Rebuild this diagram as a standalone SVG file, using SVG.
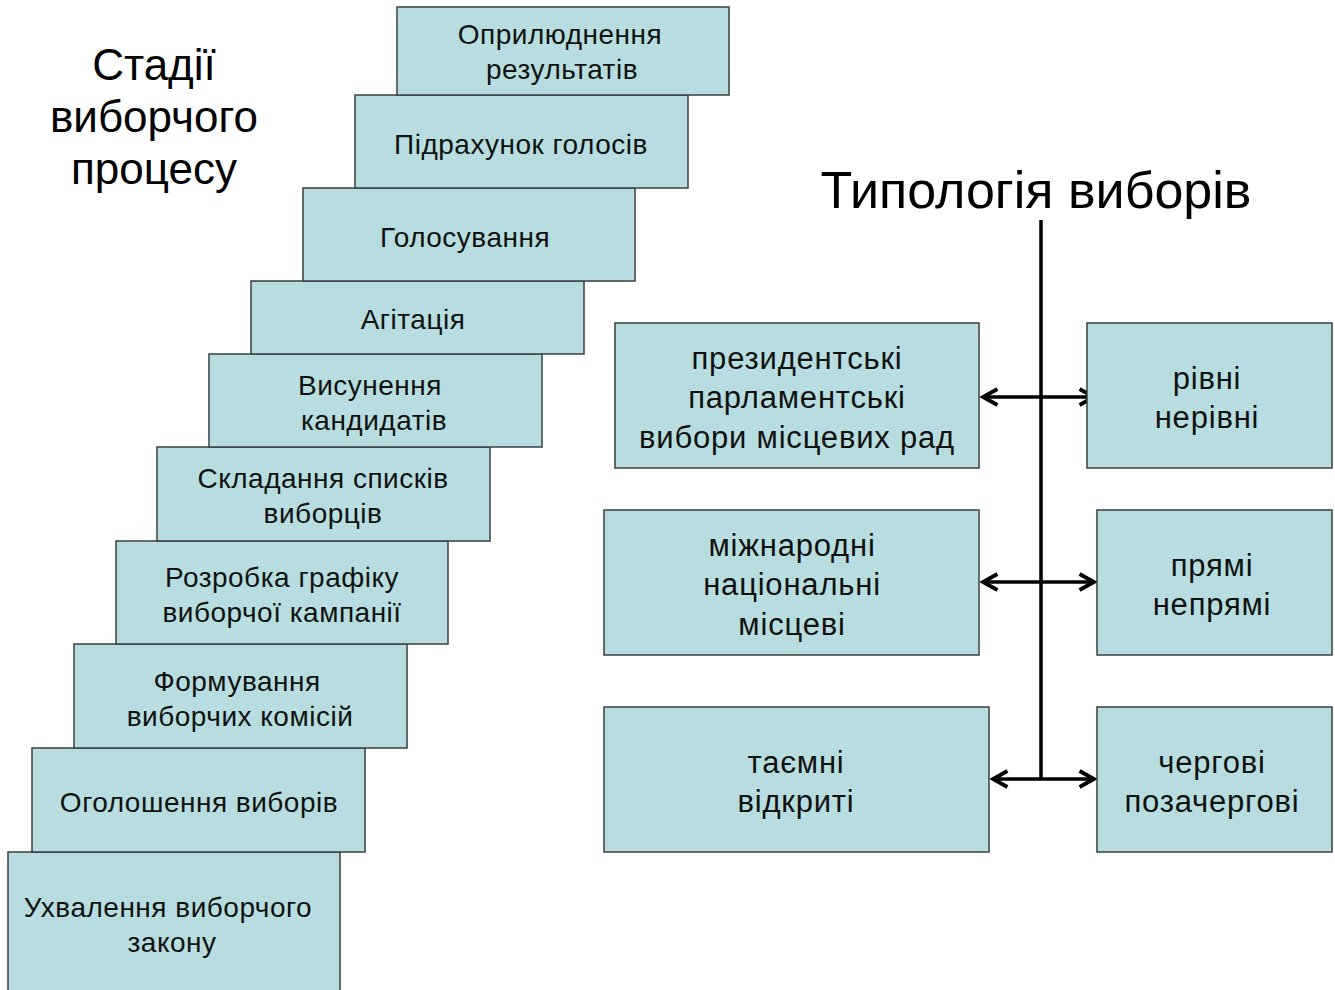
<svg xmlns="http://www.w3.org/2000/svg" width="1335" height="990" viewBox="0 0 1335 990">
<defs>
<style>
.b{fill:#b8dde1;stroke:#3a3f40;stroke-width:1.5}
.t{font-family:"Liberation Sans",Arial,sans-serif;font-size:28px;letter-spacing:0.5px;fill:#111;text-anchor:middle}
.r{font-family:"Liberation Sans",Arial,sans-serif;font-size:31px;letter-spacing:0.8px;fill:#111;text-anchor:middle}
.h{font-family:"Liberation Sans",Arial,sans-serif;fill:#000;text-anchor:middle}
.c{stroke:#000;stroke-width:3.5;fill:none}
</style>
<marker id="ah" viewBox="0 0 12 12" refX="10" refY="6" markerWidth="5.5" markerHeight="5.5" orient="auto-start-reverse" markerUnits="strokeWidth">
<path d="M1,1 L10,6 L1,11" fill="none" stroke="#000" stroke-width="2.4"/>
</marker>
</defs>
<rect width="1335" height="990" fill="#fff"/>
<g id="title-left"><text class="h" font-size="44"><tspan x="154" y="80">Стадії</tspan><tspan x="154" y="132">виборчого</tspan><tspan x="154" y="184">процесу</tspan></text></g>
<g id="title-right"><text class="h" font-size="52" x="1036" y="208">Типологія виборів</text></g>
<g id="s10"><rect class="b" x="8" y="852" width="332" height="145"/><text class="t"><tspan x="168" y="917">Ухвалення виборчого</tspan><tspan x="172" y="952">закону</tspan></text></g>
<g id="s9"><rect class="b" x="32" y="748" width="333" height="104"/><text class="t" x="199" y="812">Оголошення виборів</text></g>
<g id="s8"><rect class="b" x="74" y="644" width="333" height="104"/><text class="t"><tspan x="237" y="691">Формування</tspan><tspan x="240" y="726">виборчих комісій</tspan></text></g>
<g id="s7"><rect class="b" x="116" y="541" width="332" height="103"/><text class="t"><tspan x="282" y="587">Розробка графіку</tspan><tspan x="282" y="622">виборчої кампанії</tspan></text></g>
<g id="s6"><rect class="b" x="157" y="447" width="333" height="94"/><text class="t"><tspan x="323" y="488">Складання списків</tspan><tspan x="323" y="523">виборців</tspan></text></g>
<g id="s5"><rect class="b" x="209" y="354" width="333" height="93"/><text class="t"><tspan x="370" y="395">Висунення</tspan><tspan x="374" y="430">кандидатів</tspan></text></g>
<g id="s4"><rect class="b" x="251" y="281" width="333" height="73"/><text class="t" x="413" y="329">Агітація</text></g>
<g id="s3"><rect class="b" x="303" y="188" width="332" height="93"/><text class="t" x="465" y="247">Голосування</text></g>
<g id="s2"><rect class="b" x="355" y="95" width="333" height="93"/><text class="t" x="521" y="154">Підрахунок голосів</text></g>
<g id="s1"><rect class="b" x="397" y="7" width="332" height="88"/><text class="t"><tspan x="560" y="44">Оприлюднення</tspan><tspan x="562" y="79">результатів</tspan></text></g>
<g id="connectors">
<line class="c" x1="1041" y1="220" x2="1041" y2="780"/>
<line class="c" x1="983" y1="397" x2="1094" y2="397" marker-start="url(#ah)" marker-end="url(#ah)"/>
<line class="c" x1="983" y1="582" x2="1094" y2="582" marker-start="url(#ah)" marker-end="url(#ah)"/>
<line class="c" x1="993" y1="779" x2="1094" y2="779" marker-start="url(#ah)" marker-end="url(#ah)"/>
</g>
<g id="l1"><rect class="b" x="615" y="323" width="364" height="145"/><text class="r"><tspan x="797" y="369">президентські</tspan><tspan x="797" y="408">парламентські</tspan><tspan x="797" y="448">вибори місцевих рад</tspan></text></g>
<g id="r1"><rect class="b" x="1087" y="323" width="245" height="145"/><text class="r"><tspan x="1207" y="389">рівні</tspan><tspan x="1207" y="428">нерівні</tspan></text></g>
<g id="l2"><rect class="b" x="604" y="510" width="375" height="145"/><text class="r"><tspan x="792" y="556">міжнародні</tspan><tspan x="792" y="595">національні</tspan><tspan x="792" y="635">місцеві</tspan></text></g>
<g id="r2"><rect class="b" x="1097" y="510" width="235" height="145"/><text class="r"><tspan x="1212" y="576">прямі</tspan><tspan x="1212" y="615">непрямі</tspan></text></g>
<g id="l3"><rect class="b" x="604" y="707" width="385" height="145"/><text class="r"><tspan x="796" y="773">таємні</tspan><tspan x="796" y="812">відкриті</tspan></text></g>
<g id="r3"><rect class="b" x="1097" y="707" width="235" height="145"/><text class="r"><tspan x="1212" y="773">чергові</tspan><tspan x="1212" y="812">позачергові</tspan></text></g>
</svg>
